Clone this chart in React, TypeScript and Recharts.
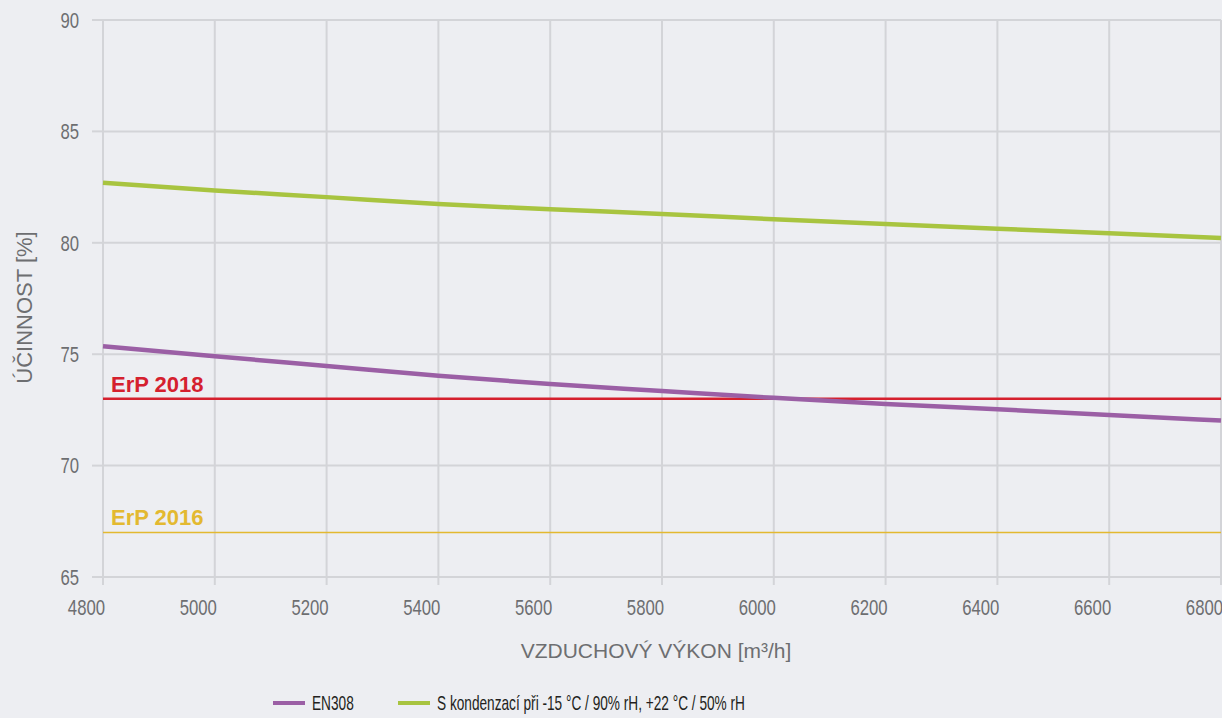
import React from 'react';
import { LineChart, Line, XAxis, YAxis, CartesianGrid, ReferenceLine, Legend, Label } from 'recharts';

const airflow = [4800, 5000, 5200, 5400, 5600, 5800, 6000, 6200, 6400, 6600, 6800];
const en308 = [75.36, 74.91, 74.47, 74.03, 73.66, 73.35, 73.04, 72.77, 72.53, 72.27, 72.02];
const condensation = [82.69, 82.35, 82.05, 81.74, 81.51, 81.29, 81.06, 80.84, 80.63, 80.43, 80.21];
const xTicks = [4800, 5000, 5200, 5400, 5600, 5800, 6000, 6200, 6400, 6600, 6800];
const yTicks = [65, 70, 75, 80, 85, 90];
const erp2018 = 73;
const erp2016 = 67;

const seriesNames = {
  en308: 'EN308',
  condensation: 'S kondenzací při -15 °C / 90% rH, +22 °C / 50% rH',
};
const xTitle = 'VZDUCHOVÝ VÝKON [m³/h]';
const yTitle = 'ÚČINNOST [%]';

const data = airflow.map((x, i) => ({ x, en308: en308[i], condensation: condensation[i] }));

const BG = '#edeef2';
const GRID = '#d3d4d8';
const AXIS_TEXT = '#6d6e71';
const PURPLE = '#9b5fa5';
const GREEN = '#a8c440';
const RED = '#d5202e';
const YELLOW = '#e3b930';
const FONT = "'Liberation Sans', Arial, sans-serif";
const TICK_SCALE = 0.76;
const LEGEND_SCALE = 0.65;

const XTick = (props: any) => {
  const { x, y, payload } = props;
  return (
    <g transform={`translate(${x + 2},${y})`}>
      <text transform={`scale(${TICK_SCALE},1)`} x={0} y={0} dy="0.71em" textAnchor="end" fill={AXIS_TEXT} fontSize={22} fontFamily={FONT}>
        {payload.value}
      </text>
    </g>
  );
};

const YTick = (props: any) => {
  const { x, y, payload } = props;
  return (
    <g transform={`translate(${x},${y})`}>
      <text transform={`scale(${TICK_SCALE},1)`} x={0} y={0} dy="0.355em" textAnchor="end" fill={AXIS_TEXT} fontSize={22} fontFamily={FONT}>
        {payload.value}
      </text>
    </g>
  );
};

const XTitle = (props: any) => {
  const vb = props.viewBox || {};
  return (
    <text x={vb.x + vb.width / 2 - 6} y={vb.y + 81} textAnchor="middle" fill={AXIS_TEXT} fontSize={21} fontFamily={FONT}>
      {xTitle}
    </text>
  );
};

const YTitle = (props: any) => {
  const vb = props.viewBox || {};
  const cx = 32;
  const cy = vb.y + vb.height / 2 + 9;
  return (
    <text x={cx} y={cy} transform={`rotate(-90, ${cx}, ${cy})`} textAnchor="middle" fill={AXIS_TEXT} fontSize={22} fontFamily={FONT}>
      {yTitle}
    </text>
  );
};

const makeErpLabel = (text: string, color: string) => (props: any) => {
  const vb = props.viewBox || {};
  return (
    <text x={vb.x + 8} y={vb.y - 7} fill={color} fontSize={22} fontWeight="bold" fontFamily={FONT}>
      {text}
    </text>
  );
};

const legendText = (text: string) => (
  <span style={{ display: 'inline-block', transform: `scaleX(${LEGEND_SCALE})`, transformOrigin: 'left center', whiteSpace: 'nowrap' }}>
    {text}
  </span>
);

const renderLegend = () => (
  <div style={{ position: 'relative', width: 1222, height: 30, fontFamily: FONT, fontSize: 21, color: '#231f20' }}>
    <div style={{ position: 'absolute', left: 273, top: 0, height: 30, display: 'flex', alignItems: 'center', whiteSpace: 'nowrap' }}>
      <span style={{ display: 'inline-block', width: 32, height: 4, background: PURPLE, marginRight: 7 }} />
      {legendText(seriesNames.en308)}
    </div>
    <div style={{ position: 'absolute', left: 398, top: 0, height: 30, display: 'flex', alignItems: 'center', whiteSpace: 'nowrap' }}>
      <span style={{ display: 'inline-block', width: 32, height: 4, background: GREEN, marginRight: 7 }} />
      {legendText(seriesNames.condensation)}
    </div>
  </div>
);

export default function App() {
  return (
    <div style={{ position: 'absolute', left: 0, top: 0, width: 1222, height: 718, background: BG, overflow: 'hidden' }}>
      <LineChart width={1222} height={718} data={data} margin={{ top: 20, right: 1, left: 0, bottom: 31 }}>
        <XAxis
          dataKey="x"
          type="number"
          domain={[4800, 6800]}
          ticks={xTicks}
          interval={0}
          height={80}
          axisLine={false}
          tickLine={{ stroke: GRID, strokeWidth: 2 }}
          tickSize={8}
          tickMargin={14}
          tick={XTick}
        >
          <Label content={XTitle} />
        </XAxis>
        <YAxis
          type="number"
          domain={[65, 90]}
          ticks={yTicks}
          interval={0}
          width={103}
          axisLine={false}
          tickLine={{ stroke: GRID, strokeWidth: 2 }}
          tickSize={11}
          tickMargin={13}
          tick={YTick}
        >
          <Label content={YTitle} />
        </YAxis>
        <ReferenceLine y={erp2016} stroke={YELLOW} strokeWidth={1.6} label={makeErpLabel('ErP 2016', YELLOW)} />
        <ReferenceLine y={erp2018} stroke={RED} strokeWidth={2.6} label={makeErpLabel('ErP 2018', RED)} />
        <Line type="monotone" dataKey="en308" name={seriesNames.en308} stroke={PURPLE} strokeWidth={4.5} dot={false} activeDot={false} isAnimationActive={false} />
        <Line type="monotone" dataKey="condensation" name={seriesNames.condensation} stroke={GREEN} strokeWidth={4.5} dot={false} activeDot={false} isAnimationActive={false} />
        <CartesianGrid stroke={GRID} strokeWidth={2} />
        <Legend verticalAlign="bottom" content={renderLegend} wrapperStyle={{ top: 688, bottom: 'auto', left: 0, width: 1222, height: 30 }} />
      </LineChart>
    </div>
  );
}
